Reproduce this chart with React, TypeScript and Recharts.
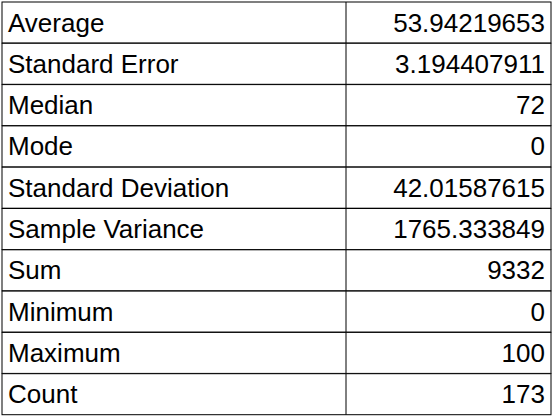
import { BarChart, Bar, XAxis, YAxis, LabelList } from "recharts";

const labels = ["Average", "Standard Error", "Median", "Mode", "Standard Deviation", "Sample Variance", "Sum", "Minimum", "Maximum", "Count"];
const values = ["53.94219653", "3.194407911", "72", "0", "42.01587615", "1765.333849", "9332", "0", "100", "173"];

const data = labels.map((name, i) => ({ name, value: values[i], full: 1 }));

const FONT = "'Liberation Sans', Arial, sans-serif";
const DIVIDER = 346;

const Cell = (props: any) => {
  const { x, y, width, height } = props;
  return (
    <g>
      <rect x={x} y={y} width={width} height={height} fill="#fff" stroke="#000" strokeWidth={1} />
      <line x1={DIVIDER} x2={DIVIDER} y1={y} y2={y + height} stroke="#000" strokeWidth={1} />
    </g>
  );
};

const NameLabel = (props: any) => {
  const { x, y, height, value } = props;
  return (
    <text x={x + 6} y={y + height / 2} dominantBaseline="central" fontFamily={FONT} fontSize={26} fill="#000">
      {value}
    </text>
  );
};

const ValueLabel = (props: any) => {
  const { x, y, width, height, value } = props;
  return (
    <text x={x + width - 6} y={y + height / 2} dominantBaseline="central" textAnchor="end" fontFamily={FONT} fontSize={26} fill="#000">
      {value}
    </text>
  );
};

export default function App() {
  return (
    <div style={{ position: "absolute", top: 0, left: 0, background: "#fff" }}>
      <BarChart
        width={553}
        height={418}
        data={data}
        layout="vertical"
        barCategoryGap={0}
        margin={{ top: 2, right: 2, bottom: 3, left: 2 }}
      >
        <XAxis type="number" domain={[0, 1]} hide />
        <YAxis type="category" dataKey="name" hide />
        <Bar dataKey="full" shape={<Cell />} isAnimationActive={false}>
          <LabelList dataKey="name" content={<NameLabel />} />
          <LabelList dataKey="value" content={<ValueLabel />} />
        </Bar>
      </BarChart>
    </div>
  );
}
